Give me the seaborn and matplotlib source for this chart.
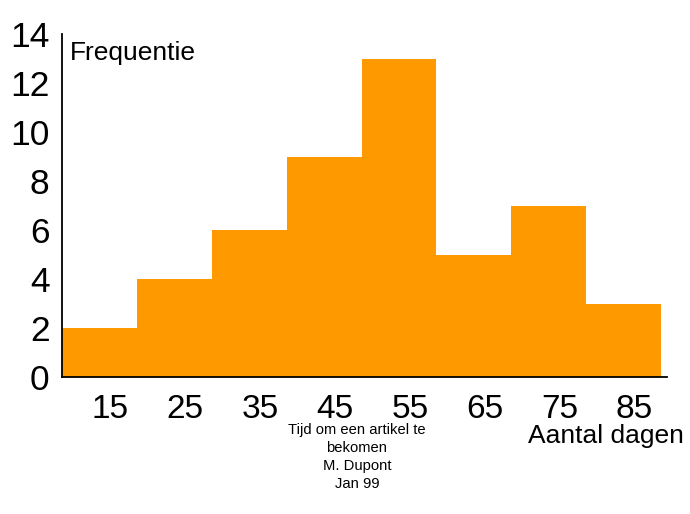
import matplotlib
matplotlib.use("Agg")
import matplotlib.pyplot as plt
import matplotlib.transforms as mtransforms
import seaborn as sns
import numpy as np

# Data: class centres (days) and frequencies
centres = [15, 25, 35, 45, 55, 65, 75, 85]
freq = [2, 4, 6, 9, 13, 5, 7, 3]
bin_edges = [10, 20, 30, 40, 50, 60, 70, 80, 90]
y_ticks = [0, 2, 4, 6, 8, 10, 12, 14]

sns.set_style("white")
plt.rcParams['font.family'] = ['Liberation Sans', 'DejaVu Sans']
plt.rcParams['text.color'] = 'black'
plt.rcParams['xtick.color'] = 'black'
plt.rcParams['ytick.color'] = 'black'

fig = plt.figure(figsize=(6.9, 5.14), dpi=100)
ax = fig.add_axes([0.0899, 0.2665, 0.8768, 0.6665])

sns.histplot(x=centres, weights=freq, bins=bin_edges, color="#FF9900",
             alpha=1, edgecolor="none", linewidth=0, ax=ax)

ax.set_xlim(10, 90.8)
ax.set_ylim(0, 14)
ax.set_xticks(centres)
ax.set_xticklabels([str(c) for c in centres], fontsize=24)
ax.set_yticks(y_ticks)
ax.set_yticklabels([str(t) for t in y_ticks], fontsize=25.5)
ax.tick_params(axis='both', length=0, colors='black')
ax.tick_params(axis='x', pad=12)
ax.tick_params(axis='y', pad=9)

# shift x tick labels slightly to the right, like the original
offset = mtransforms.ScaledTranslation(11 / 100, 0, fig.dpi_scale_trans)
for lbl in ax.get_xticklabels():
    lbl.set_transform(lbl.get_transform() + offset)

ax.set_xlabel("")
ax.set_ylabel("")
for side in ['top', 'right']:
    ax.spines[side].set_visible(False)
for side in ['left', 'bottom']:
    ax.spines[side].set_color('black')
    ax.spines[side].set_linewidth(1.3)

# axis titles placed as in the original
fig.text(70 / 690, 1 - 41 / 514, "Frequentie", fontsize=19, ha='left', va='top')
fig.text(528 / 690, 1 - 424 / 514, "Aantal dagen", fontsize=19, ha='left', va='top')
fig.text(357 / 690, 1 - 423 / 514, "Tijd om een artikel te\nbekomen\nM. Dupont\nJan 99",
         fontsize=10.6, ha='center', va='top', linespacing=1.37)

fig.savefig("out.png", dpi=100)
